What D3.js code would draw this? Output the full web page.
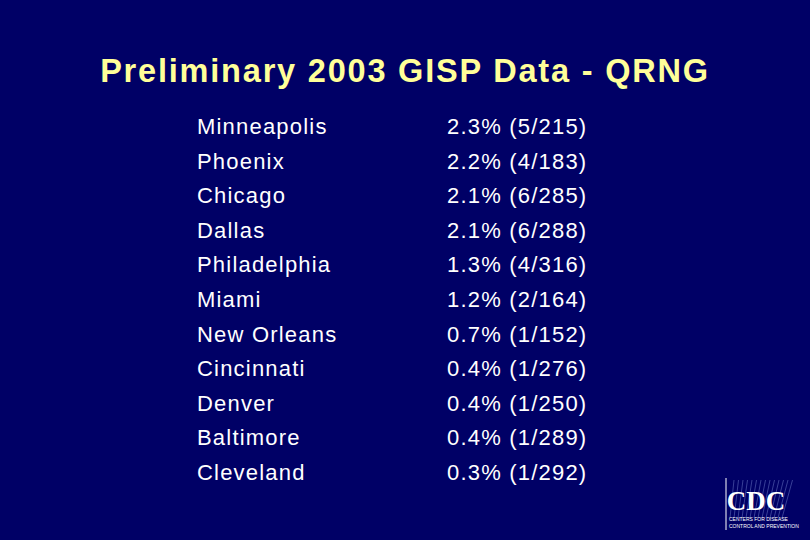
<!DOCTYPE html>
<html><head><meta charset="utf-8">
<script src="https://cdn.jsdelivr.net/npm/d3@7"></script>
<style>body{margin:0;background:#000066;}</style>
</head><body>
<script>
const width = 810, height = 540;
const title = "Preliminary 2003 GISP Data - QRNG";
const cities = ["Minneapolis","Phoenix","Chicago","Dallas","Philadelphia","Miami","New Orleans","Cincinnati","Denver","Baltimore","Cleveland"];
const pct = [2.3,2.2,2.1,2.1,1.3,1.2,0.7,0.4,0.4,0.4,0.3];
const pos = [5,4,6,6,4,2,1,1,1,1,1];
const total = [215,183,285,288,316,164,152,276,250,289,292];

const svg = d3.select("body").append("svg").attr("width", width).attr("height", height);
svg.append("rect").attr("width", width).attr("height", height).attr("fill", "#000066");

svg.append("text").attr("x", 405).attr("y", 82).attr("text-anchor", "middle")
 .attr("font-family", "Liberation Sans, Arial, sans-serif").attr("font-weight", "bold")
 .attr("font-size", 32.5).attr("letter-spacing", 1.8).attr("fill", "#ffff99").text(title);

const y = d3.scaleBand().domain(d3.range(cities.length)).range([110, 490]);
const rows = svg.selectAll("g.row").data(cities).enter().append("g")
 .attr("transform", (d, i) => "translate(0," + (y(i) + y.bandwidth() / 2 + 7) + ")")
 .attr("font-family", "Liberation Sans, Arial, sans-serif").attr("font-size", 22)
 .attr("letter-spacing", 1.2).attr("fill", "#ffffff");
rows.append("text").attr("x", 197).text(d => d);
rows.append("text").attr("x", 447).text((d, i) => pct[i].toFixed(1) + "% (" + pos[i] + "/" + total[i] + ")");

// CDC logo
const logo = svg.append("g").attr("transform", "translate(726,478)");
logo.append("line").attr("x1", 0).attr("y1", 0).attr("x2", 0).attr("y2", 52).attr("stroke", "#fff").attr("stroke-width", 1);
for (let k = 0; k < 14; k++) {
  logo.append("line").attr("x1", 4 + k * 4).attr("y1", 40).attr("x2", 8 + k * 4.5).attr("y2", 2)
   .attr("stroke", "#8899dd").attr("stroke-width", 0.6).attr("opacity", 0.7);
}
logo.append("text").attr("x", 30).attr("y", 32).attr("text-anchor", "middle")
 .attr("font-family", "Liberation Serif, serif").attr("font-weight", "bold").attr("font-size", 27)
 .attr("fill", "#fff").text("CDC");
logo.append("text").attr("x", 3).attr("y", 43).attr("font-family", "Liberation Sans, sans-serif")
 .attr("font-size", 5).attr("fill", "#fff").text("CENTERS FOR DISEASE");
logo.append("text").attr("x", 3).attr("y", 50).attr("font-family", "Liberation Sans, sans-serif")
 .attr("font-size", 5).attr("fill", "#fff").text("CONTROL AND PREVENTION");
</script>
</body></html>
